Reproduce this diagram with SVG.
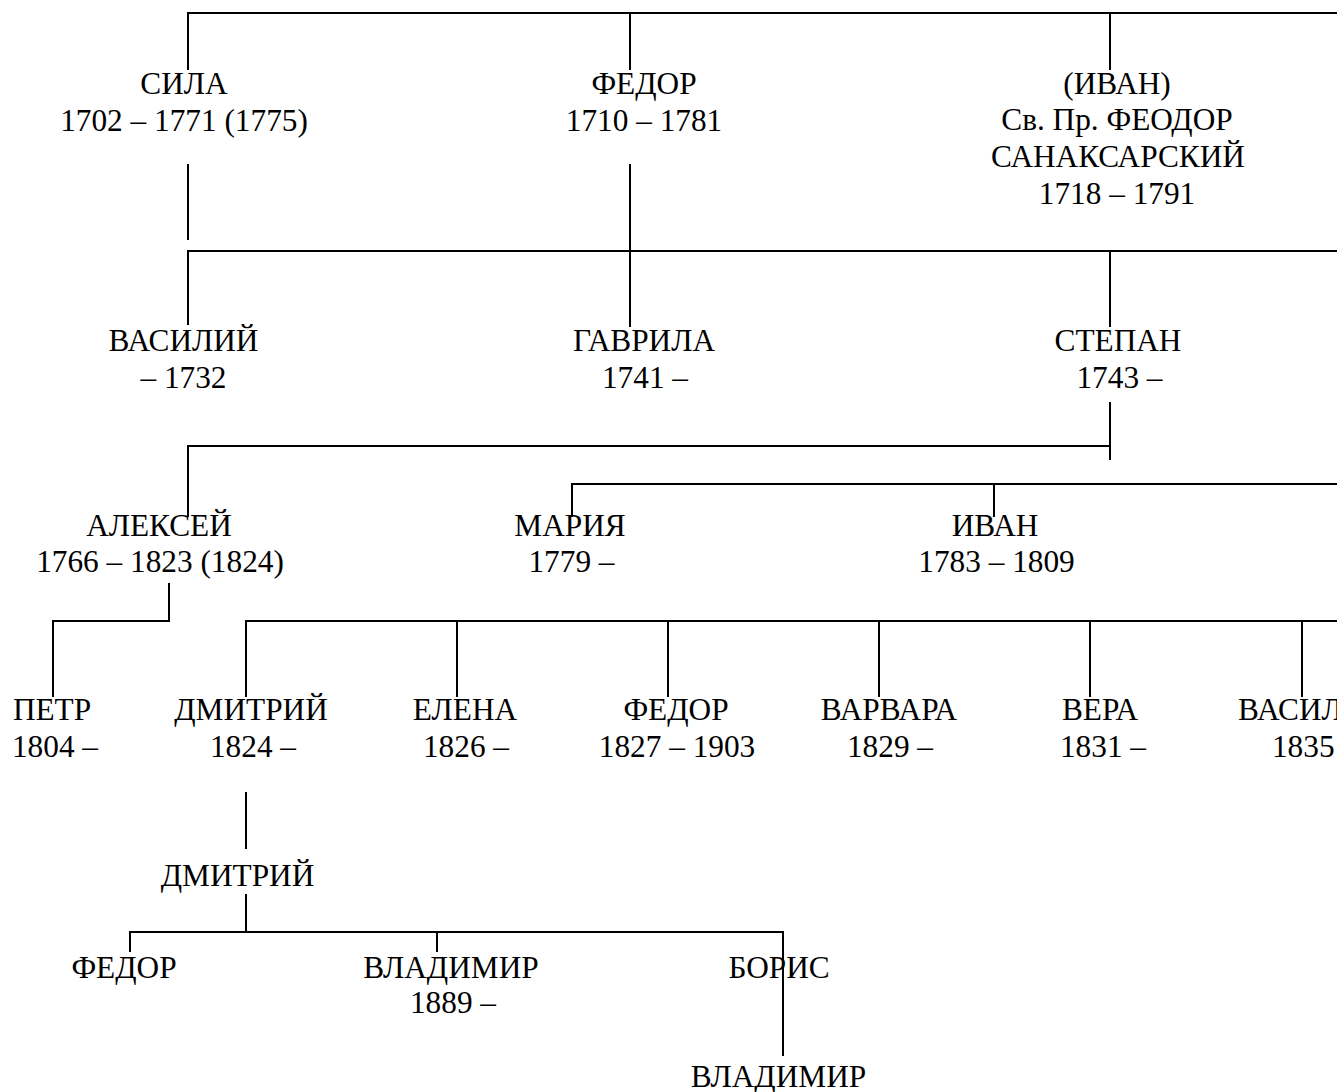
<svg xmlns="http://www.w3.org/2000/svg" width="1337" height="1092" viewBox="0 0 1337 1092">
<style>
text{font-family:"Liberation Serif","Times New Roman",serif;font-size:31.3px;fill:#000;text-anchor:middle}
.c line{stroke:#000;stroke-width:2;stroke-linecap:butt}
</style>
<rect width="1337" height="1092" fill="#fff"/>
<g class="c" id="connectors">
<line x1="188" y1="13" x2="1337" y2="13"/>
<line x1="188" y1="12" x2="188" y2="70"/>
<line x1="630" y1="13" x2="630" y2="70"/>
<line x1="1110" y1="13" x2="1110" y2="70"/>
<line x1="188" y1="164" x2="188" y2="240"/>
<line x1="630" y1="164" x2="630" y2="327"/>
<line x1="188" y1="251" x2="1337" y2="251"/>
<line x1="188" y1="250" x2="188" y2="325"/>
<line x1="1110" y1="251" x2="1110" y2="327"/>
<line x1="1110" y1="402" x2="1110" y2="460"/>
<line x1="188" y1="446" x2="1110" y2="446"/>
<line x1="188" y1="445" x2="188" y2="517"/>
<line x1="572" y1="484" x2="1337" y2="484"/>
<line x1="572" y1="483" x2="572" y2="517"/>
<line x1="994" y1="484" x2="994" y2="517"/>
<line x1="169" y1="583" x2="169" y2="622"/>
<line x1="53" y1="621" x2="170" y2="621"/>
<line x1="53" y1="620" x2="53" y2="697"/>
<line x1="246" y1="621" x2="1337" y2="621"/>
<line x1="246" y1="620" x2="246" y2="697"/>
<line x1="457" y1="621" x2="457" y2="697"/>
<line x1="668" y1="621" x2="668" y2="697"/>
<line x1="879" y1="621" x2="879" y2="697"/>
<line x1="1090" y1="621" x2="1090" y2="697"/>
<line x1="1302" y1="621" x2="1302" y2="697"/>
<line x1="246" y1="792" x2="246" y2="849"/>
<line x1="246" y1="894" x2="246" y2="932"/>
<line x1="130" y1="932" x2="784" y2="932"/>
<line x1="130" y1="931" x2="130" y2="952"/>
<line x1="437" y1="932" x2="437" y2="952"/>
<line x1="783" y1="931" x2="783" y2="1056"/>
</g>
<g id="sila"><text x="184" y="94">СИЛА</text><text x="184" y="131">1702 – 1771 (1775)</text></g>
<g id="fedor1"><text x="644" y="94">ФЕДОР</text><text x="644" y="131">1710 – 1781</text></g>
<g id="ivan1"><text x="1117" y="94">(ИВАН)</text><text x="1117" y="130">Св. Пр. ФЕОДОР</text><text x="1118" y="167">САНАКСАРСКИЙ</text><text x="1117" y="204">1718 – 1791</text></g>
<g id="vasiliy1"><text x="183.5" y="351">ВАСИЛИЙ</text><text x="183.5" y="388">– 1732</text></g>
<g id="gavrila"><text x="644" y="351">ГАВРИЛА</text><text x="645" y="388">1741 –</text></g>
<g id="stepan"><text x="1118" y="351">СТЕПАН</text><text x="1119.5" y="388">1743 –</text></g>
<g id="aleksey"><text x="159" y="536">АЛЕКСЕЙ</text><text x="160" y="572">1766 – 1823 (1824)</text></g>
<g id="mariya"><text x="570" y="536">МАРИЯ</text><text x="571.5" y="572">1779 –</text></g>
<g id="ivan2"><text x="995" y="536">ИВАН</text><text x="996.5" y="572">1783 – 1809</text></g>
<g id="petr"><text x="52" y="720">ПЕТР</text><text x="55" y="757">1804 –</text></g>
<g id="dmitriy1"><text x="251" y="720">ДМИТРИЙ</text><text x="253" y="757">1824 –</text></g>
<g id="elena"><text x="465" y="720">ЕЛЕНА</text><text x="466" y="757">1826 –</text></g>
<g id="fedor2"><text x="676" y="720">ФЕДОР</text><text x="677" y="757">1827 – 1903</text></g>
<g id="varvara"><text x="889" y="720">ВАРВАРА</text><text x="890" y="757">1829 –</text></g>
<g id="vera"><text x="1100" y="720">ВЕРА</text><text x="1103" y="757">1831 –</text></g>
<g id="vasiliy2"><text x="1313" y="720">ВАСИЛИЙ</text><text x="1315" y="757">1835 –</text></g>
<g id="dmitriy2"><text x="237.5" y="886">ДМИТРИЙ</text></g>
<g id="fedor3"><text x="124" y="978">ФЕДОР</text></g>
<g id="vladimir1"><text x="451" y="978">ВЛАДИМИР</text><text x="453" y="1013">1889 –</text></g>
<g id="boris"><text x="779" y="978">БОРИС</text></g>
<g id="vladimir2"><text x="778.5" y="1087">ВЛАДИМИР</text></g>
</svg>
